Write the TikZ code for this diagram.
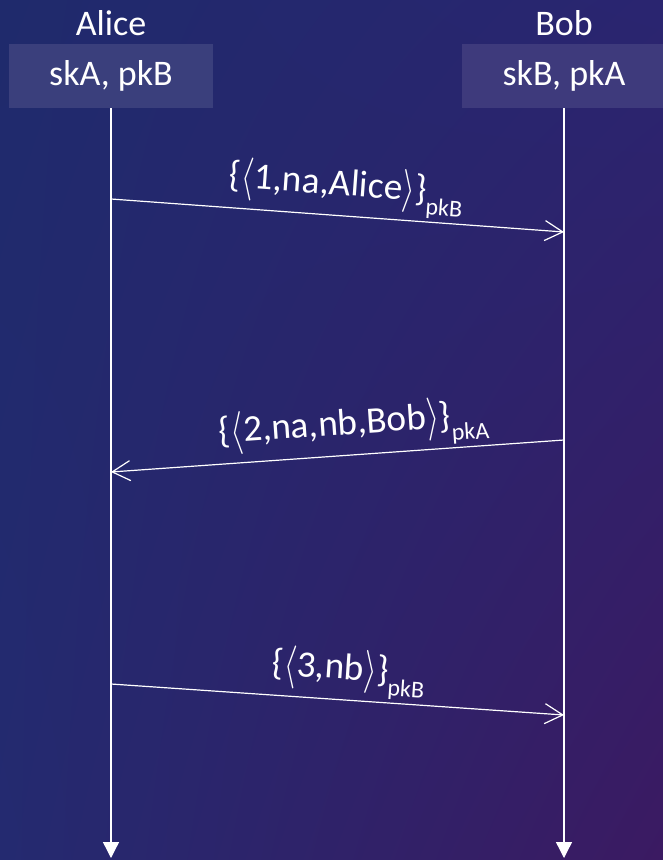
\documentclass[tikz,border=0pt]{standalone}
\usepackage{fontspec}
\setmainfont{Carlito}
\usepackage{tikz}
\usetikzlibrary{arrows.meta,shadings}
\definecolor{bgTL}{HTML}{1F2A6C}
\definecolor{bgTR}{HTML}{2A2570}
\definecolor{bgBL}{HTML}{242A70}
\definecolor{bgBR}{HTML}{3B1A62}
\definecolor{boxA}{HTML}{3A3F7C}
\definecolor{boxB}{HTML}{3E3A7C}
\newcommand{\enc}[2]{\{\raisebox{-0.05em}{\scalebox{1}[1.3]{$\langle$}}#1\raisebox{-0.05em}{\scalebox{1}[1.3]{$\rangle$}}\}\raisebox{-0.36em}{\fontsize{18}{20}\selectfont #2}}

\begin{document}
\begin{tikzpicture}[x=0.75pt, y=-0.75pt,
    actor/.style={font=\fontsize{27}{30}\selectfont, text=white, anchor=base},
    keybox/.style={minimum width=204*0.75pt, minimum height=64*0.75pt, inner sep=0pt,
      font=\fontsize{27}{30}\selectfont, text=white},
    lifeline/.style={white, line width=1pt, -{Triangle[length=12pt, width=12pt]}},
    msg/.style={white, line width=0.9pt, -{Straight Barb[length=13.5pt, width=15pt, line width=0.9pt]}},
    msglabel/.style={font=\fontsize{28}{30}\selectfont, text=white, sloped, above, inner sep=2pt}]
  % Background
  \useasboundingbox (0,0) rectangle (663,860);
  \clip (0,0) rectangle (663,860);
  \shade[upper left=bgTL, upper right=bgTR, lower left=bgBL, lower right=bgBR] (0,0) rectangle (663,860);

  % Actors and their keys
  \node[actor] (alice) at (111,35) {Alice};
  \node[actor] (bob) at (564,35) {Bob};
  \node[keybox, fill=boxA] (keysA) at (111,76) {skA, pkB};
  \node[keybox, fill=boxB] (keysB) at (564,76) {skB, pkA};

  % Lifelines
  \coordinate (endA) at (111,858);
  \coordinate (endB) at (564,858);
  \draw[lifeline] (keysA.south) -- (endA);
  \draw[lifeline] (keysB.south) -- (endB);

  % Message end points
  \coordinate (m1s) at (111,199);
  \coordinate (m1e) at (564,232);
  \coordinate (m2s) at (564,440);
  \coordinate (m2e) at (111,472);
  \coordinate (m3s) at (111,684);
  \coordinate (m3e) at (564,715);

  % Messages
  \draw[msg] (m1s) -- node[msglabel, pos=0.515] {\enc{1,na,Alice}{pkB}} (m1e);
  \draw[msg] (m2s) -- node[msglabel, pos=0.46] {\enc{2,na,nb,Bob}{pkA}} (m2e);
  \draw[msg] (m3s) -- node[msglabel, pos=0.52] {\enc{3,nb}{pkB}} (m3e);
\end{tikzpicture}
\end{document}
